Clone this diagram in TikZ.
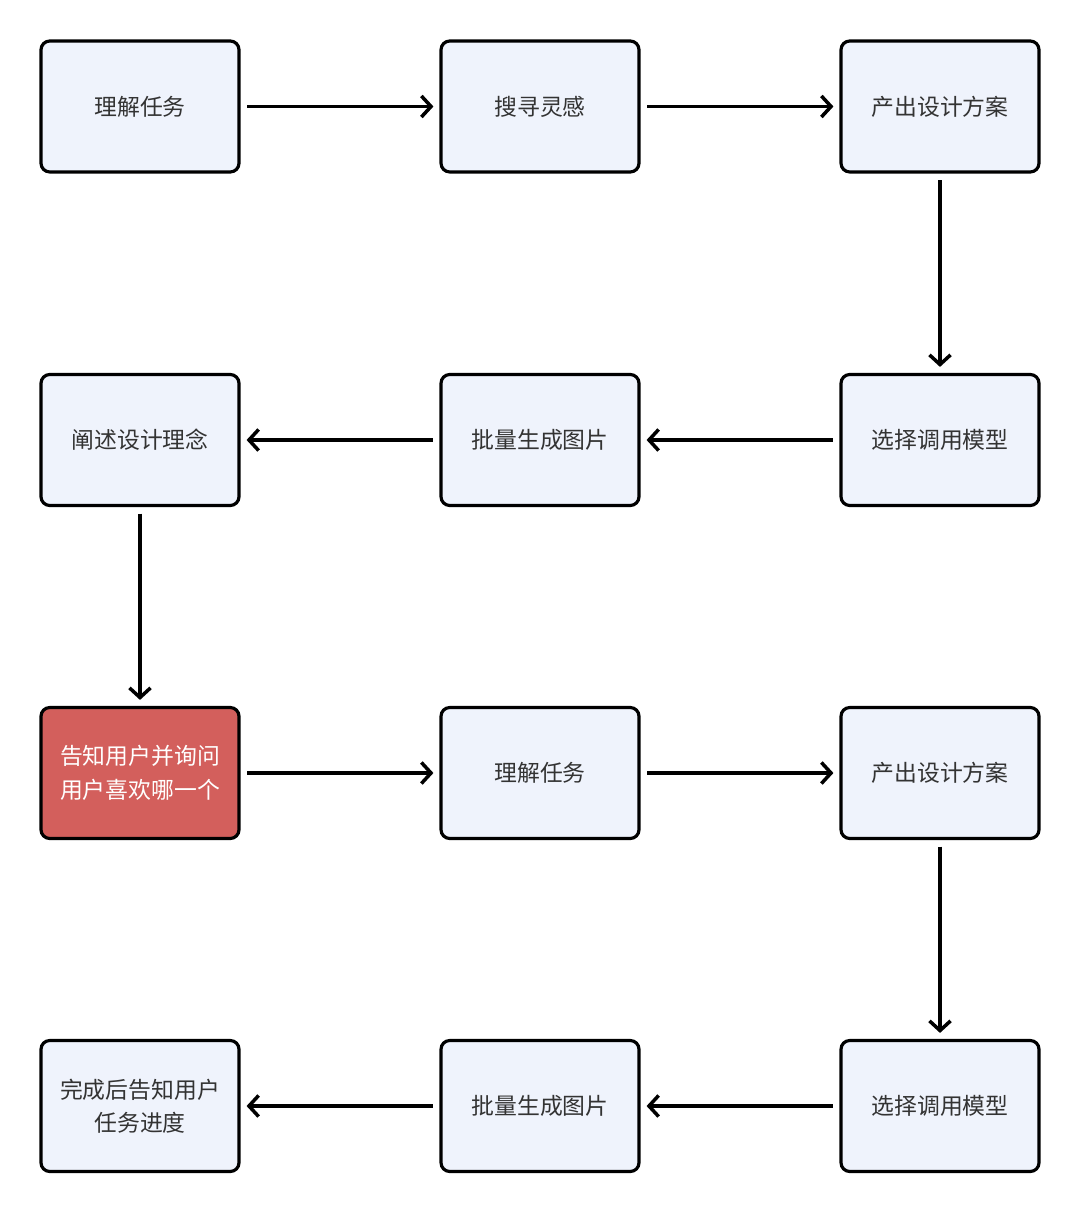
\documentclass[tikz,border=0pt]{standalone}
\usepackage{fontspec}
\setmainfont{Noto Sans CJK SC}
\usepackage{tikz}
\usetikzlibrary{arrows.meta}

\definecolor{boxblue}{HTML}{EFF3FC}
\definecolor{boxred}{HTML}{D35F5C}
\definecolor{txtgrey}{HTML}{333333}

\tikzset{
  stepbox/.style={draw=black,line width=1.8pt,rounded corners=5pt,fill=boxblue,
    minimum width=3.96cm,minimum height=2.62cm,text=txtgrey,font=\fontsize{13}{19}\selectfont,
    align=center,inner sep=0pt},
  askbox/.style={stepbox,fill=boxred,text=white},
  flow/.style={->,line width=2pt,shorten <=0.13cm,shorten >=0.12cm}
}

\begin{document}
\begin{tikzpicture}[>={Straight Barb[length=5.5pt,width=12pt,line width=2pt]}]
   \useasboundingbox (0,0) rectangle (21.6,-24.26);

   \node[stepbox] (u1) at (2.8,-2.13) {理解任务};
   \node[stepbox] (s1) at (10.8,-2.13) {搜寻灵感};
   \node[stepbox] (p1) at (18.8,-2.13) {产出设计方案};
   \node[stepbox] (m1) at (18.8,-8.8) {选择调用模型};
   \node[stepbox] (g1) at (10.8,-8.8) {批量生成图片};
   \node[stepbox] (e1) at (2.8,-8.8) {阐述设计理念};
   \node[askbox] (ask) at (2.8,-15.46) {告知用户并询问\\用户喜欢哪一个};
   \node[stepbox] (u2) at (10.8,-15.46) {理解任务};
   \node[stepbox] (p2) at (18.8,-15.46) {产出设计方案};
   \node[stepbox] (m2) at (18.8,-22.12) {选择调用模型};
   \node[stepbox] (g2) at (10.8,-22.12) {批量生成图片};
   \node[stepbox] (done) at (2.8,-22.12) {完成后告知用户\\任务进度};

   \draw[flow] (u1) -- (s1);
   \draw[flow] (s1) -- (p1);
   \draw[flow] (p1) -- (m1);
   \draw[flow] (m1) -- (g1);
   \draw[flow] (g1) -- (e1);
   \draw[flow] (e1) -- (ask);
   \draw[flow] (ask) -- (u2);
   \draw[flow] (u2) -- (p2);
   \draw[flow] (p2) -- (m2);
   \draw[flow] (m2) -- (g2);
   \draw[flow] (g2) -- (done);
\end{tikzpicture}
\end{document}
